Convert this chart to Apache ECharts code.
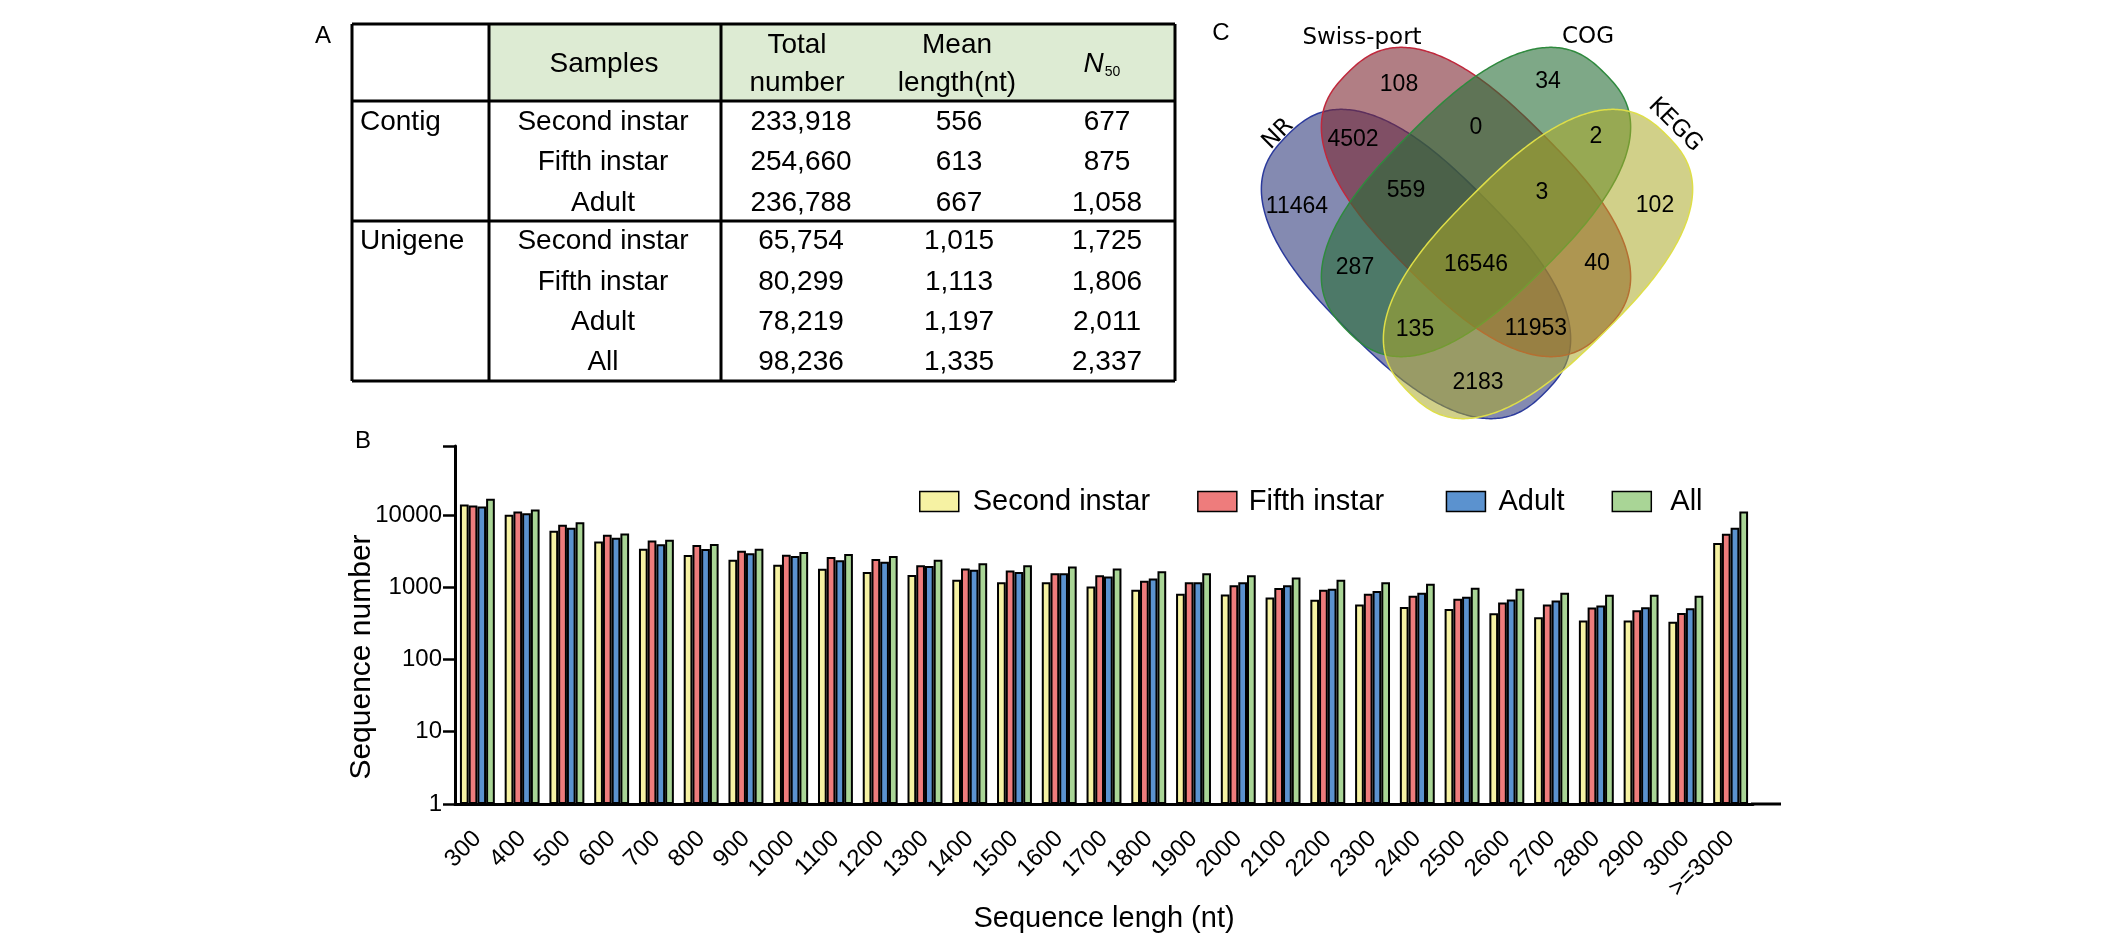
<!DOCTYPE html>
<html><head><meta charset="utf-8">
<script src="https://cdn.jsdelivr.net/npm/echarts@6.0.0/dist/echarts.min.js"></script>
<style>html,body{margin:0;padding:0;background:#fff}#c{width:2102px;height:948px}</style>
</head><body><div id="c"></div>
<script>
// ---------- Panel B data ----------
const categories = ['300','400','500','600','700','800','900','1000','1100','1200','1300','1400','1500','1600','1700','1800','1900','2000','2100','2200','2300','2400','2500','2600','2700','2800','2900','3000','>=3000'];
const secondInstar = [13950,10100,6040,4280,3420,2790,2400,2040,1795,1630,1480,1273,1168,1168,1027,923,811,794,721,669,575,534,500,435,383,347,347,333,4100];
const fifthInstar  = [13510,11130,7320,5310,4420,3850,3200,2820,2610,2450,2020,1814,1701,1561,1464,1233,1168,1061,974,923,811,761,695,614,575,522,479,440,5480];
const adultSeq     = [13080,10550,6650,4820,3930,3380,2940,2700,2370,2250,1960,1739,1630,1561,1403,1315,1168,1168,1061,953,884,838,736,676,654,557,528,511,6650];
const allSeq       = [16740,11870,7900,5540,4520,3970,3420,3070,2880,2700,2400,2154,2020,1935,1814,1665,1561,1464,1358,1273,1168,1119,984,953,838,786,786,761,11130];
const seriesNames  = ['Second instar','Fifth instar','Adult','All'];
const yTickLabels  = [1,10,100,1000,10000];

// ---------- Panel A data ----------
const tableHeader     = ['Samples','Total\nnumber','Mean\nlength(nt)','N50'];
const tableGroups     = ['Contig','Unigene'];
const contigSamples   = ['Second instar','Fifth instar','Adult'];
const contigTotal     = ['233,918','254,660','236,788'];
const contigMean      = ['556','613','667'];
const contigN50       = ['677','875','1,058'];
const unigeneSamples  = ['Second instar','Fifth instar','Adult','All'];
const unigeneTotal    = ['65,754','80,299','78,219','98,236'];
const unigeneMean     = ['1,015','1,113','1,197','1,335'];
const unigeneN50      = ['1,725','1,806','2,011','2,337'];

// ---------- Panel C data ----------
const vennSets    = ['NR','Swiss-port','COG','KEGG'];
const vennRegions = ['NR','SP','COG','KEGG','NR&SP','SP&COG','COG&KEGG','NR&COG','NR&SP&COG','SP&COG&KEGG','SP&KEGG','ALL','NR&COG&KEGG','NR&SP&KEGG','NR&KEGG'];
const vennCounts  = [11464,108,34,102,4502,0,2,287,559,3,40,16546,135,11953,2183];

// ---------- layout (not data) ----------
const FONT = '"Liberation Sans", Arial, sans-serif';
const seriesColors = ['#f6f2a3','#ee7c7c','#5b92cf','#a9d596'];
const legendPadL  = [9, 7, 8, 14];
const legendTrail = ['', '\u2002', '', ''];
const TBL = {left:352, c1:489, c2:721, right:1175, top:24, head:101, sep:221, bottom:381,
             colX:[603,801,959,1107], rowY:[122,162,203,241,282,322,362], groupX:360, headY:64};
const VENN_N = 2.6;
const VENN_ELL = [
  {c:[1416,264], a:182, b:95, rot:45,  fill:'rgba(50,60,125,0.6)',  stroke:'#2b3a9c'},
  {c:[1476,202], a:182, b:95, rot:45,  fill:'rgba(125,40,50,0.6)',  stroke:'#c0283c'},
  {c:[1476,202], a:182, b:95, rot:-45, fill:'rgba(40,110,55,0.6)',  stroke:'#2f8a3e'},
  {c:[1538,264], a:182, b:95, rot:-45, fill:'rgba(172,170,40,0.55)', stroke:'#dede48'}
];
const VENN_LABEL_POS = {'NR':[1297,207],'SP':[1399,85],'COG':[1548,82],'KEGG':[1655,206],'NR&SP':[1353,140],
  'SP&COG':[1476,128],'COG&KEGG':[1596,137],'NR&COG':[1355,268],'NR&SP&COG':[1406,191],'SP&COG&KEGG':[1542,193],
  'SP&KEGG':[1597,264],'ALL':[1476,265],'NR&COG&KEGG':[1415,330],'NR&SP&KEGG':[1536,329],'NR&KEGG':[1478,383]};
const VENN_SET_POS = [[1278,134,45],[1362,38,0],[1588,37,0],[1675,125,-45]];

function txt(text, x, y, size, align, opts) {
  return Object.assign({type:'text', z:10, style:Object.assign({text:text, x:x, y:y,
    font:'normal ' + size + 'px ' + FONT, fill:'#000', align:align||'center', textAlign:align||'center',
    verticalAlign:'middle', textVerticalAlign:'middle'}, (opts&&opts.style)||{})}, (opts&&opts.el)||{});
}
function line(x1,y1,x2,y2,w) {
  return {type:'line', z:12, shape:{x1:x1,y1:y1,x2:x2,y2:y2}, style:{stroke:'#000', lineWidth:w||3}};
}
// superellipse outline (rounded, stadium-like ends)
function ovalPts(e) {
  const th = e.rot*Math.PI/180, pts=[], p = 2/VENN_N;
  for (let i=0;i<360;i++){
    const t = i/360*2*Math.PI, ct = Math.cos(t), st = Math.sin(t);
    const u = e.a*Math.sign(ct)*Math.pow(Math.abs(ct), p);
    const v = e.b*Math.sign(st)*Math.pow(Math.abs(st), p);
    pts.push([e.c[0] + u*Math.cos(th) - v*Math.sin(th), e.c[1] + u*Math.sin(th) + v*Math.cos(th)]);
  }
  return pts;
}

const graphics = [];
// Panel letters
graphics.push(txt('A', 323, 36, 24));
graphics.push(txt('B', 363, 441, 24));
graphics.push(txt('C', 1221, 33, 24));

// ---- Table ----
graphics.push({type:'rect', z:5, shape:{x:TBL.c1, y:TBL.top, width:TBL.right-TBL.c1, height:TBL.head-TBL.top}, style:{fill:'#ddebd3'}});
graphics.push(line(TBL.left, TBL.top, TBL.right, TBL.top));
graphics.push(line(TBL.left, TBL.head, TBL.right, TBL.head));
graphics.push(line(TBL.left, TBL.sep, TBL.right, TBL.sep));
graphics.push(line(TBL.left, TBL.bottom, TBL.right, TBL.bottom));
[TBL.left, TBL.c1, TBL.c2, TBL.right].forEach(x => graphics.push(line(x, TBL.top, x, TBL.bottom)));
const headerX = [604, 797, 957];
for (let i=0;i<3;i++) graphics.push(txt(tableHeader[i], headerX[i], TBL.headY, 28, 'center', {style:{lineHeight:38}}));
graphics.push({type:'text', z:10, style:{text:'{n|' + tableHeader[3].charAt(0) + '}{s|' + tableHeader[3].slice(1) + '}',
  x:1102, y:TBL.headY, align:'center', textAlign:'center', verticalAlign:'middle', textVerticalAlign:'middle', fill:'#000',
  rich:{n:{fontSize:28, fontStyle:'italic', fontFamily:FONT, fill:'#000'}, s:{fontSize:14, fontFamily:FONT, fill:'#000', padding:[16,0,0,1]}}}});
const rows = [];
contigSamples.forEach((s,i)=>rows.push([i===0?tableGroups[0]:'', s, contigTotal[i], contigMean[i], contigN50[i]]));
unigeneSamples.forEach((s,i)=>rows.push([i===0?tableGroups[1]:'', s, unigeneTotal[i], unigeneMean[i], unigeneN50[i]]));
rows.forEach((r,ri)=>{
  const y = TBL.rowY[ri];
  if (r[0]) graphics.push(txt(r[0], TBL.groupX, y, 28, 'left'));
  for (let c=1;c<5;c++) graphics.push(txt(r[c], TBL.colX[c-1], y, 28, 'center'));
});

// ---- Venn ----
VENN_ELL.forEach(e => graphics.push({type:'polygon', z:3, shape:{points:ovalPts(e)}, style:{fill:e.fill, stroke:e.stroke, lineWidth:1.5}}));
vennRegions.forEach((r,i)=>{
  const p = VENN_LABEL_POS[r];
  graphics.push(txt(String(vennCounts[i]), p[0], p[1], 23));
});
vennSets.forEach((s,i)=>{
  const p = VENN_SET_POS[i];
  graphics.push(txt(s, p[0], p[1], 23, 'center', {el:{x:p[0], y:p[1], rotation:p[2]*Math.PI/180},
    style:{x:0, y:0, font:'normal 23px "DejaVu Sans", sans-serif'}}));
});

// ---- x-axis extension beyond last category ----
const GRID = {left:455, top:446, width:1298, height:358};
graphics.push({type:'line', z:20, shape:{x1:GRID.left+GRID.width-2, y1:GRID.top+GRID.height, x2:1781, y2:GRID.top+GRID.height}, style:{stroke:'#000', lineWidth:3}});

const seriesData = [secondInstar, fifthInstar, adultSeq, allSeq];
const chart = echarts.init(document.getElementById('c'), null, {renderer:'canvas'});
chart.setOption({
  animation:false,
  backgroundColor:'#fff',
  textStyle:{fontFamily:FONT, color:'#000'},
  grid:{left:GRID.left, top:GRID.top, width:GRID.width, height:GRID.height, containLabel:false},
  legend:{
    data:seriesNames.map((n,i)=>({name:n, textStyle:{padding:[0,0,0,legendPadL[i]]}})),
    formatter: name => name + legendTrail[seriesNames.indexOf(name)],
    left:919, top:487, padding:0, itemWidth:39, itemHeight:20, itemGap:47, icon:'rect',
    textStyle:{fontSize:29, fontFamily:FONT, color:'#000'},
    itemStyle:{borderColor:'#000', borderWidth:1.5}
  },
  xAxis:{
    type:'category', data:categories,
    axisLine:{lineStyle:{color:'#000', width:3}},
    axisTick:{alignWithLabel:true, length:11, lineStyle:{color:'#000', width:2.5}},
    axisLabel:{rotate:45, interval:0, fontSize:24, color:'#000', margin:31, fontFamily:FONT},
    name:'Sequence lengh (nt)', nameLocation:'middle', nameGap:94,
    nameTextStyle:{fontSize:29, color:'#000', fontFamily:FONT}
  },
  yAxis:{
    type:'log', logBase:10, min:yTickLabels[0], max:90000,
    axisLine:{show:true, lineStyle:{color:'#000', width:3}},
    axisTick:{show:true, length:12, lineStyle:{color:'#000', width:2.5}},
    splitLine:{show:false}, minorTick:{show:false},
    axisLabel:{fontSize:24, color:'#000', margin:13, fontFamily:FONT,
      formatter:v => { const r = Math.round(v); return yTickLabels.indexOf(r) >= 0 ? String(r) : ''; }},
    name:'Sequence number', nameLocation:'middle', nameGap:78, nameRotate:90, nameMoveOverlap:false,
    nameTextStyle:{fontSize:30, color:'#000', fontFamily:FONT, padding:[0,64,0,0]}
  },
  series: seriesNames.map((n,i)=>({
    name:n, type:'bar', data:seriesData[i], barGap:'0%', barCategoryGap:'22%',
    itemStyle:{color:seriesColors[i], borderColor:'#000', borderWidth:2}
  })),
  graphic:{elements:graphics}
});
</script></body></html>
